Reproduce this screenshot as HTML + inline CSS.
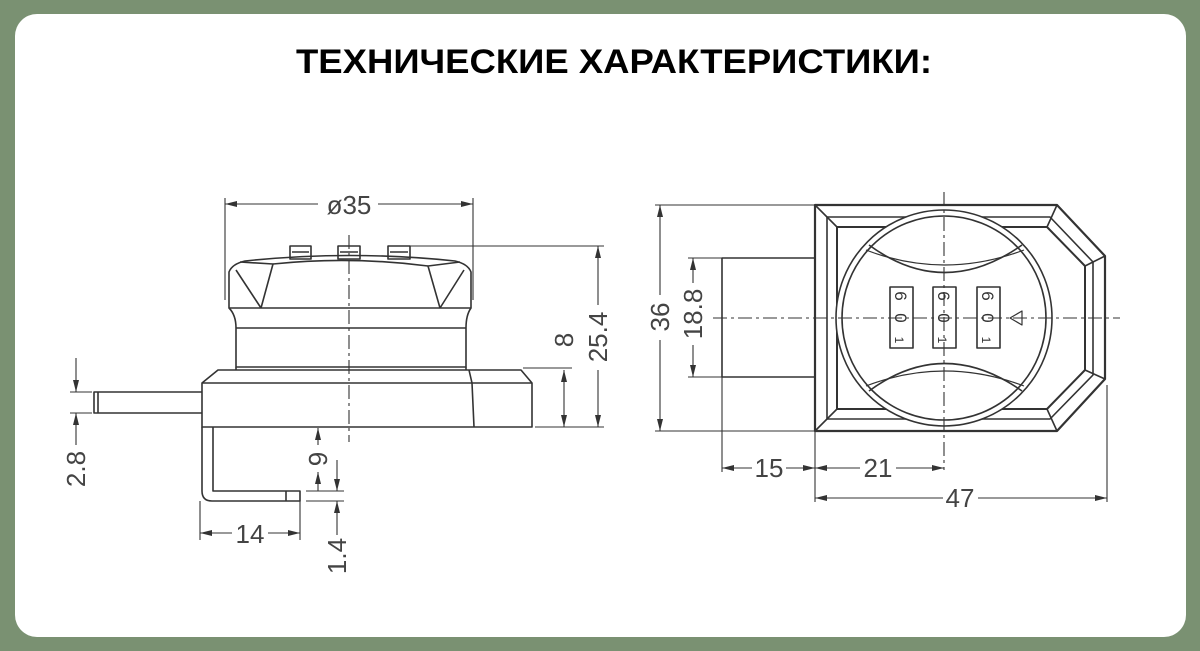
<!DOCTYPE html>
<html><head><meta charset="utf-8"><style>
html,body{margin:0;padding:0;width:1200px;height:651px;overflow:hidden;background:#7a9172}
svg{display:block}
</style></head><body>
<svg width="1200" height="651" viewBox="0 0 1200 651" xmlns="http://www.w3.org/2000/svg">
<defs>
<marker id="a" viewBox="0 0 12 6" refX="12" refY="3" markerWidth="12" markerHeight="6" orient="auto-start-reverse" markerUnits="userSpaceOnUse"><path d="M0,0 L12,3 L0,6 z" fill="#333"/></marker>
</defs>
<rect x="15" y="14" width="1171" height="623" rx="22" fill="#fff"/>
<text x="296" y="73" font-family="Liberation Sans, sans-serif" font-weight="bold" font-size="34" textLength="636" lengthAdjust="spacingAndGlyphs" fill="#000">ТЕХНИЧЕСКИЕ ХАРАКТЕРИСТИКИ:</text>

<g fill="none" stroke="#333" stroke-width="1.6" stroke-linejoin="round">
<!-- LEFT VIEW -->
<!-- cap -->
<path d="M229,308 L229,272 Q232,264 245,261 Q350,250 455,261 Q468,264 471,272 L471,308 Z"/>
<path d="M240,262 L273,264 L261,308 M236,270 L261,308"/>
<path d="M460,262 L428,266 L440,308 M464,270 L440,308"/>
<path d="M273,264 Q350,256 428,266"/>
<path d="M229,308 Q236,315 236,328 L236,367 L466,367 L466,328 Q466,315 471,308"/>
<line x1="236" y1="328" x2="466" y2="328"/>
<!-- buttons -->
<rect x="290" y="246" width="21" height="13"/><line x1="292" y1="252" x2="309" y2="252"/>
<rect x="338" y="246" width="22" height="13"/><line x1="340" y1="252" x2="358" y2="252"/>
<rect x="388" y="246" width="22" height="13"/><line x1="390" y1="252" x2="408" y2="252"/>
<!-- base -->
<path d="M218,370 L521,370 L532,383 L532,427 L202,427 L202,383 Z"/>
<line x1="202" y1="383" x2="532" y2="383"/>
<path d="M469,370 L472,383 L474,427"/>
<line x1="236" y1="367" x2="236" y2="370"/><line x1="466" y1="367" x2="466" y2="370"/>
<!-- left bar -->
<path d="M202,392 L94,392 L94,413 L202,413"/><line x1="98" y1="392" x2="98" y2="413"/>
<!-- pin -->
<path d="M213,427 L213,491 L300,491 L300,501 L212,501 Q202,501 202,491 L202,427"/>
<line x1="286" y1="491" x2="286" y2="501"/>
</g>

<g stroke="#333" stroke-width="1.1" fill="none">
<!-- centerline left -->
<line x1="349" y1="235" x2="349" y2="442" stroke-dasharray="14,4,3,4"/>
<!-- Ø35 -->
<line x1="225" y1="198" x2="225" y2="300"/><line x1="473" y1="198" x2="473" y2="300"/>
<line x1="225" y1="204" x2="318" y2="204" marker-start="url(#a)"/><line x1="378" y1="204" x2="473" y2="204" marker-end="url(#a)"/>
<!-- 25.4 / 8 -->
<line x1="410" y1="246" x2="604" y2="246"/>
<line x1="535" y1="427" x2="604" y2="427"/>
<line x1="523" y1="368" x2="572" y2="368"/>
<line x1="598" y1="246" x2="598" y2="305" marker-start="url(#a)"/><line x1="598" y1="370" x2="598" y2="427" marker-end="url(#a)"/>
<line x1="564" y1="370" x2="564" y2="427" marker-start="url(#a)" marker-end="url(#a)"/>
<!-- 2.8 -->
<line x1="70" y1="392" x2="92" y2="392"/><line x1="70" y1="413" x2="92" y2="413"/>
<line x1="76" y1="358" x2="76" y2="392" marker-end="url(#a)"/>
<line x1="76" y1="445" x2="76" y2="413" marker-end="url(#a)"/>
<!-- 9 / 1.4 -->
<line x1="306" y1="491" x2="344" y2="491"/><line x1="306" y1="501" x2="344" y2="501"/>
<line x1="318" y1="445" x2="318" y2="428" marker-end="url(#a)"/>
<line x1="318" y1="472" x2="318" y2="491" marker-start="url(#a)"/>
<line x1="337" y1="460" x2="337" y2="491" marker-end="url(#a)"/>
<line x1="337" y1="535" x2="337" y2="501" marker-end="url(#a)"/>
<!-- 14 -->
<line x1="200" y1="501" x2="200" y2="540"/><line x1="300" y1="501" x2="300" y2="540"/>
<line x1="200" y1="533" x2="232" y2="533" marker-start="url(#a)"/><line x1="268" y1="533" x2="300" y2="533" marker-end="url(#a)"/>
</g>

<g fill="#444" font-family="Liberation Sans, sans-serif" font-size="26">
<text x="349" y="214" text-anchor="middle">ø35</text>
<text transform="translate(607,337) rotate(-90)" text-anchor="middle">25.4</text>
<text transform="translate(573,340) rotate(-90)" text-anchor="middle">8</text>
<text transform="translate(85,469) rotate(-90)" text-anchor="middle">2.8</text>
<text transform="translate(327,459) rotate(-90)" text-anchor="middle">9</text>
<text transform="translate(346,556) rotate(-90)" text-anchor="middle">1.4</text>
<text x="250" y="543" text-anchor="middle">14</text>
</g>

<!-- RIGHT VIEW -->
<g fill="none" stroke="#333" stroke-width="1.6" stroke-linejoin="round">
<path d="M815,205 L1057,205 L1105,256 L1105,379 L1057,431 L815,431 Z" stroke-width="2.2"/>
<path d="M827,217 L1050,217 L1093,262 L1093,375 L1050,419 L827,419 Z"/>
<path d="M837,227 L1047,227 L1085,266 L1085,370 L1047,409 L837,409 Z" stroke-width="2"/>
<line x1="815" y1="205" x2="837" y2="227"/><line x1="815" y1="431" x2="837" y2="409"/>
<line x1="1057" y1="205" x2="1047" y2="227"/><line x1="1105" y1="256" x2="1085" y2="266"/>
<line x1="1105" y1="379" x2="1085" y2="370"/><line x1="1057" y1="431" x2="1047" y2="409"/>
<rect x="722" y="258" width="93" height="119"/>
<circle cx="944" cy="318" r="108" fill="#fff"/>
<circle cx="944" cy="318" r="102"/>
<path d="M869,245 Q944,300 1022,245"/>
<path d="M866,250 Q944,280 1024,250" stroke-width="1.2"/>
<path d="M869,391 Q944,336 1022,391"/>
<path d="M866,386 Q944,356 1024,386" stroke-width="1.2"/>
<rect x="890" y="287" width="23" height="61"/>
<rect x="933" y="287" width="23" height="61"/>
<rect x="977" y="287" width="23" height="61"/>
<path d="M1022,311 L1010,318 L1022,325 Z" stroke-width="1.2"/>
</g>
<g fill="#333" font-family="Liberation Sans, sans-serif" font-size="17">
<text transform="translate(895,296) rotate(90)" text-anchor="middle">6</text>
<text transform="translate(895,318) rotate(90)" text-anchor="middle">0</text>
<text transform="translate(895,340) rotate(90)" text-anchor="middle" font-size="12">1</text>
<text transform="translate(938,296) rotate(90)" text-anchor="middle">6</text>
<text transform="translate(938,318) rotate(90)" text-anchor="middle">0</text>
<text transform="translate(938,340) rotate(90)" text-anchor="middle" font-size="12">1</text>
<text transform="translate(982,296) rotate(90)" text-anchor="middle">6</text>
<text transform="translate(982,318) rotate(90)" text-anchor="middle">0</text>
<text transform="translate(982,340) rotate(90)" text-anchor="middle" font-size="12">1</text>
</g>
<g stroke="#333" stroke-width="1.1" fill="none">
<line x1="713" y1="318" x2="1120" y2="318" stroke-dasharray="14,4,3,4"/>
<line x1="944" y1="192" x2="944" y2="470" stroke-dasharray="14,4,3,4"/>
<!-- 36 -->
<line x1="655" y1="205" x2="815" y2="205"/><line x1="655" y1="431" x2="815" y2="431"/>
<line x1="660" y1="205" x2="660" y2="295" marker-start="url(#a)"/><line x1="660" y1="340" x2="660" y2="431" marker-end="url(#a)"/>
<!-- 18.8 -->
<line x1="688" y1="258" x2="722" y2="258"/><line x1="688" y1="377" x2="722" y2="377"/>
<line x1="693" y1="258" x2="693" y2="283" marker-start="url(#a)"/><line x1="693" y1="345" x2="693" y2="377" marker-end="url(#a)"/>
<!-- 15/21/47 ext -->
<line x1="722" y1="377" x2="722" y2="472"/><line x1="815" y1="431" x2="815" y2="502"/><line x1="1107" y1="385" x2="1107" y2="502"/>
<line x1="722" y1="468" x2="752" y2="468" marker-start="url(#a)"/><line x1="786" y1="468" x2="815" y2="468" marker-end="url(#a)"/>
<line x1="815" y1="468" x2="860" y2="468" marker-start="url(#a)"/><line x1="896" y1="468" x2="944" y2="468" marker-end="url(#a)"/>
<line x1="815" y1="498" x2="943" y2="498" marker-start="url(#a)"/><line x1="978" y1="498" x2="1107" y2="498" marker-end="url(#a)"/>
</g>
<g fill="#444" font-family="Liberation Sans, sans-serif" font-size="26">
<text transform="translate(669,317) rotate(-90)" text-anchor="middle">36</text>
<text transform="translate(702,314) rotate(-90)" text-anchor="middle">18.8</text>
<text x="769" y="477" text-anchor="middle">15</text>
<text x="878" y="477" text-anchor="middle">21</text>
<text x="960" y="507" text-anchor="middle">47</text>
</g>
</svg>
</body></html>
